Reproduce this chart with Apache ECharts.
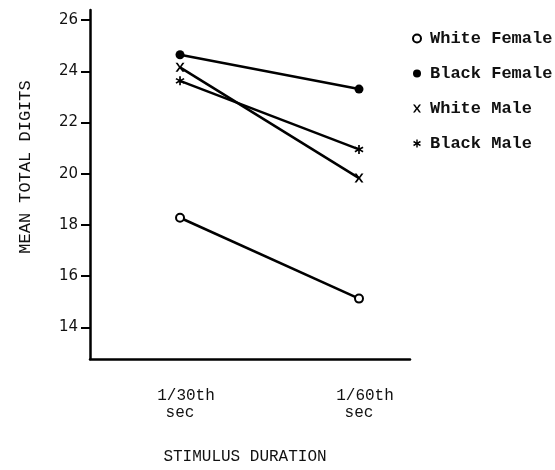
<!DOCTYPE html>
<html>
<head>
<meta charset="utf-8">
<script src="https://cdn.jsdelivr.net/npm/echarts@6/dist/echarts.min.js"></script>
<style>html,body{margin:0;padding:0;background:#fff;}#c{width:555px;height:470px;}</style>
</head>
<body>
<div id="c"></div>
<script>
var categories = ['1/30th', '1/60th'];
var categoryUnits = ['sec', 'sec'];
var yTicks = [14, 16, 18, 20, 22, 24, 26];
var seriesNames = ['White Female', 'Black Female', 'White Male', 'Black Male'];
var whiteFemale = [18.28, 15.12];
var blackFemale = [24.65, 23.31];
var whiteMale = [24.16, 19.83];
var blackMale = [23.63, 20.95];

var FONT = 'Liberation Mono';
var xPath = 'path://M0,0 L2.4,0 L5,3.8 L7.6,0 L10,0 L6.3,5 L10,10 L7.6,10 L5,6.2 L2.4,10 L0,10 L3.7,5 Z';
var starPath = 'path://M4.1,0 L5.9,0 L5.9,3.5 L8.9,1.7 L9.8,3.3 L6.8,5 L9.8,6.7 L8.9,8.3 L5.9,6.5 L5.9,10 L4.1,10 L4.1,6.5 L1.1,8.3 L0.2,6.7 L3.2,5 L0.2,3.3 L1.1,1.7 L4.1,3.5 Z';
var symbols = ['emptyCircle', 'circle', xPath, starPath];
var symbolSizes = [8, 9, 9, 9];
var values = [whiteFemale, blackFemale, whiteMale, blackMale];

var chart = echarts.init(document.getElementById('c'), null, {renderer: 'canvas'});
var series = seriesNames.map(function (name, i) {
  return {
    name: name,
    type: 'line',
    data: values[i].map(function (v, j) { return [j, v]; }),
    symbol: symbols[i],
    symbolSize: symbolSizes[i],
    showAllSymbol: true,
    lineStyle: {color: '#000', width: 2.5},
    itemStyle: {color: '#000', borderColor: '#000', borderWidth: i === 0 ? 1.8 : 0},
    emphasis: {disabled: true},
    z: 3
  };
});

chart.setOption({
  animation: false,
  backgroundColor: '#fff',
  grid: {left: 90, right: 145, top: 10, bottom: 95, containLabel: false},
  legend: {
    orient: 'vertical',
    left: 407,
    top: 25,
    itemGap: 18,
    itemWidth: 8,
    itemHeight: 8,
    data: seriesNames.map(function (n, i) {
      return {name: n, icon: symbols[i],
        itemStyle: {color: '#000', borderColor: '#000', borderWidth: i === 0 ? 1.3 : 0}};
    }),
    textStyle: {fontFamily: FONT, fontSize: 17, fontWeight: 'bold', color: '#111', padding: [0, 0, 0, 4]},
    selectedMode: false
  },
  xAxis: {
    type: 'value',
    min: -0.503,
    max: 1.285,
    name: 'STIMULUS DURATION',
    nameLocation: 'middle',
    nameGap: 90,
    nameTextStyle: {fontFamily: FONT, fontSize: 16, color: '#111', padding: [0, 10, 0, 0]},
    axisLine: {show: true, lineStyle: {color: '#000', width: 2.5}},
    axisTick: {show: false},
    splitLine: {show: false},
    axisLabel: {
      customValues: [0, 1],
      margin: 28,
      fontFamily: FONT,
      fontSize: 16,
      color: '#111',
      lineHeight: 17,
      formatter: function (v) { var i = Math.round(v); return '{a|' + categories[i] + '}\n{b|' + categoryUnits[i] + '}'; },
      rich: {
        a: {fontFamily: FONT, fontSize: 16, color: '#111', lineHeight: 17, padding: [0, 0, 0, 12]},
        b: {fontFamily: FONT, fontSize: 16, color: '#111', lineHeight: 17}
      }
    }
  },
  yAxis: {
    type: 'value',
    min: 12.76,
    max: 26.4,
    axisLine: {show: true, onZero: false, lineStyle: {color: '#000', width: 2.5}},
    axisTick: {show: true, customValues: yTicks, length: 9, inside: false, lineStyle: {color: '#000', width: 2}},
    splitLine: {show: false},
    axisLabel: {customValues: yTicks, margin: 12, fontFamily: 'DejaVu Sans', fontSize: 15, color: '#111'}
  },
  graphic: [{
    type: 'text',
    x: 25,
    y: 167,
    rotation: Math.PI / 2,
    style: {text: 'MEAN TOTAL DIGITS', fontFamily: FONT, fontSize: 17, fill: '#111', align: 'center', verticalAlign: 'middle'}
  }],
  series: series
});
</script>
</body>
</html>
